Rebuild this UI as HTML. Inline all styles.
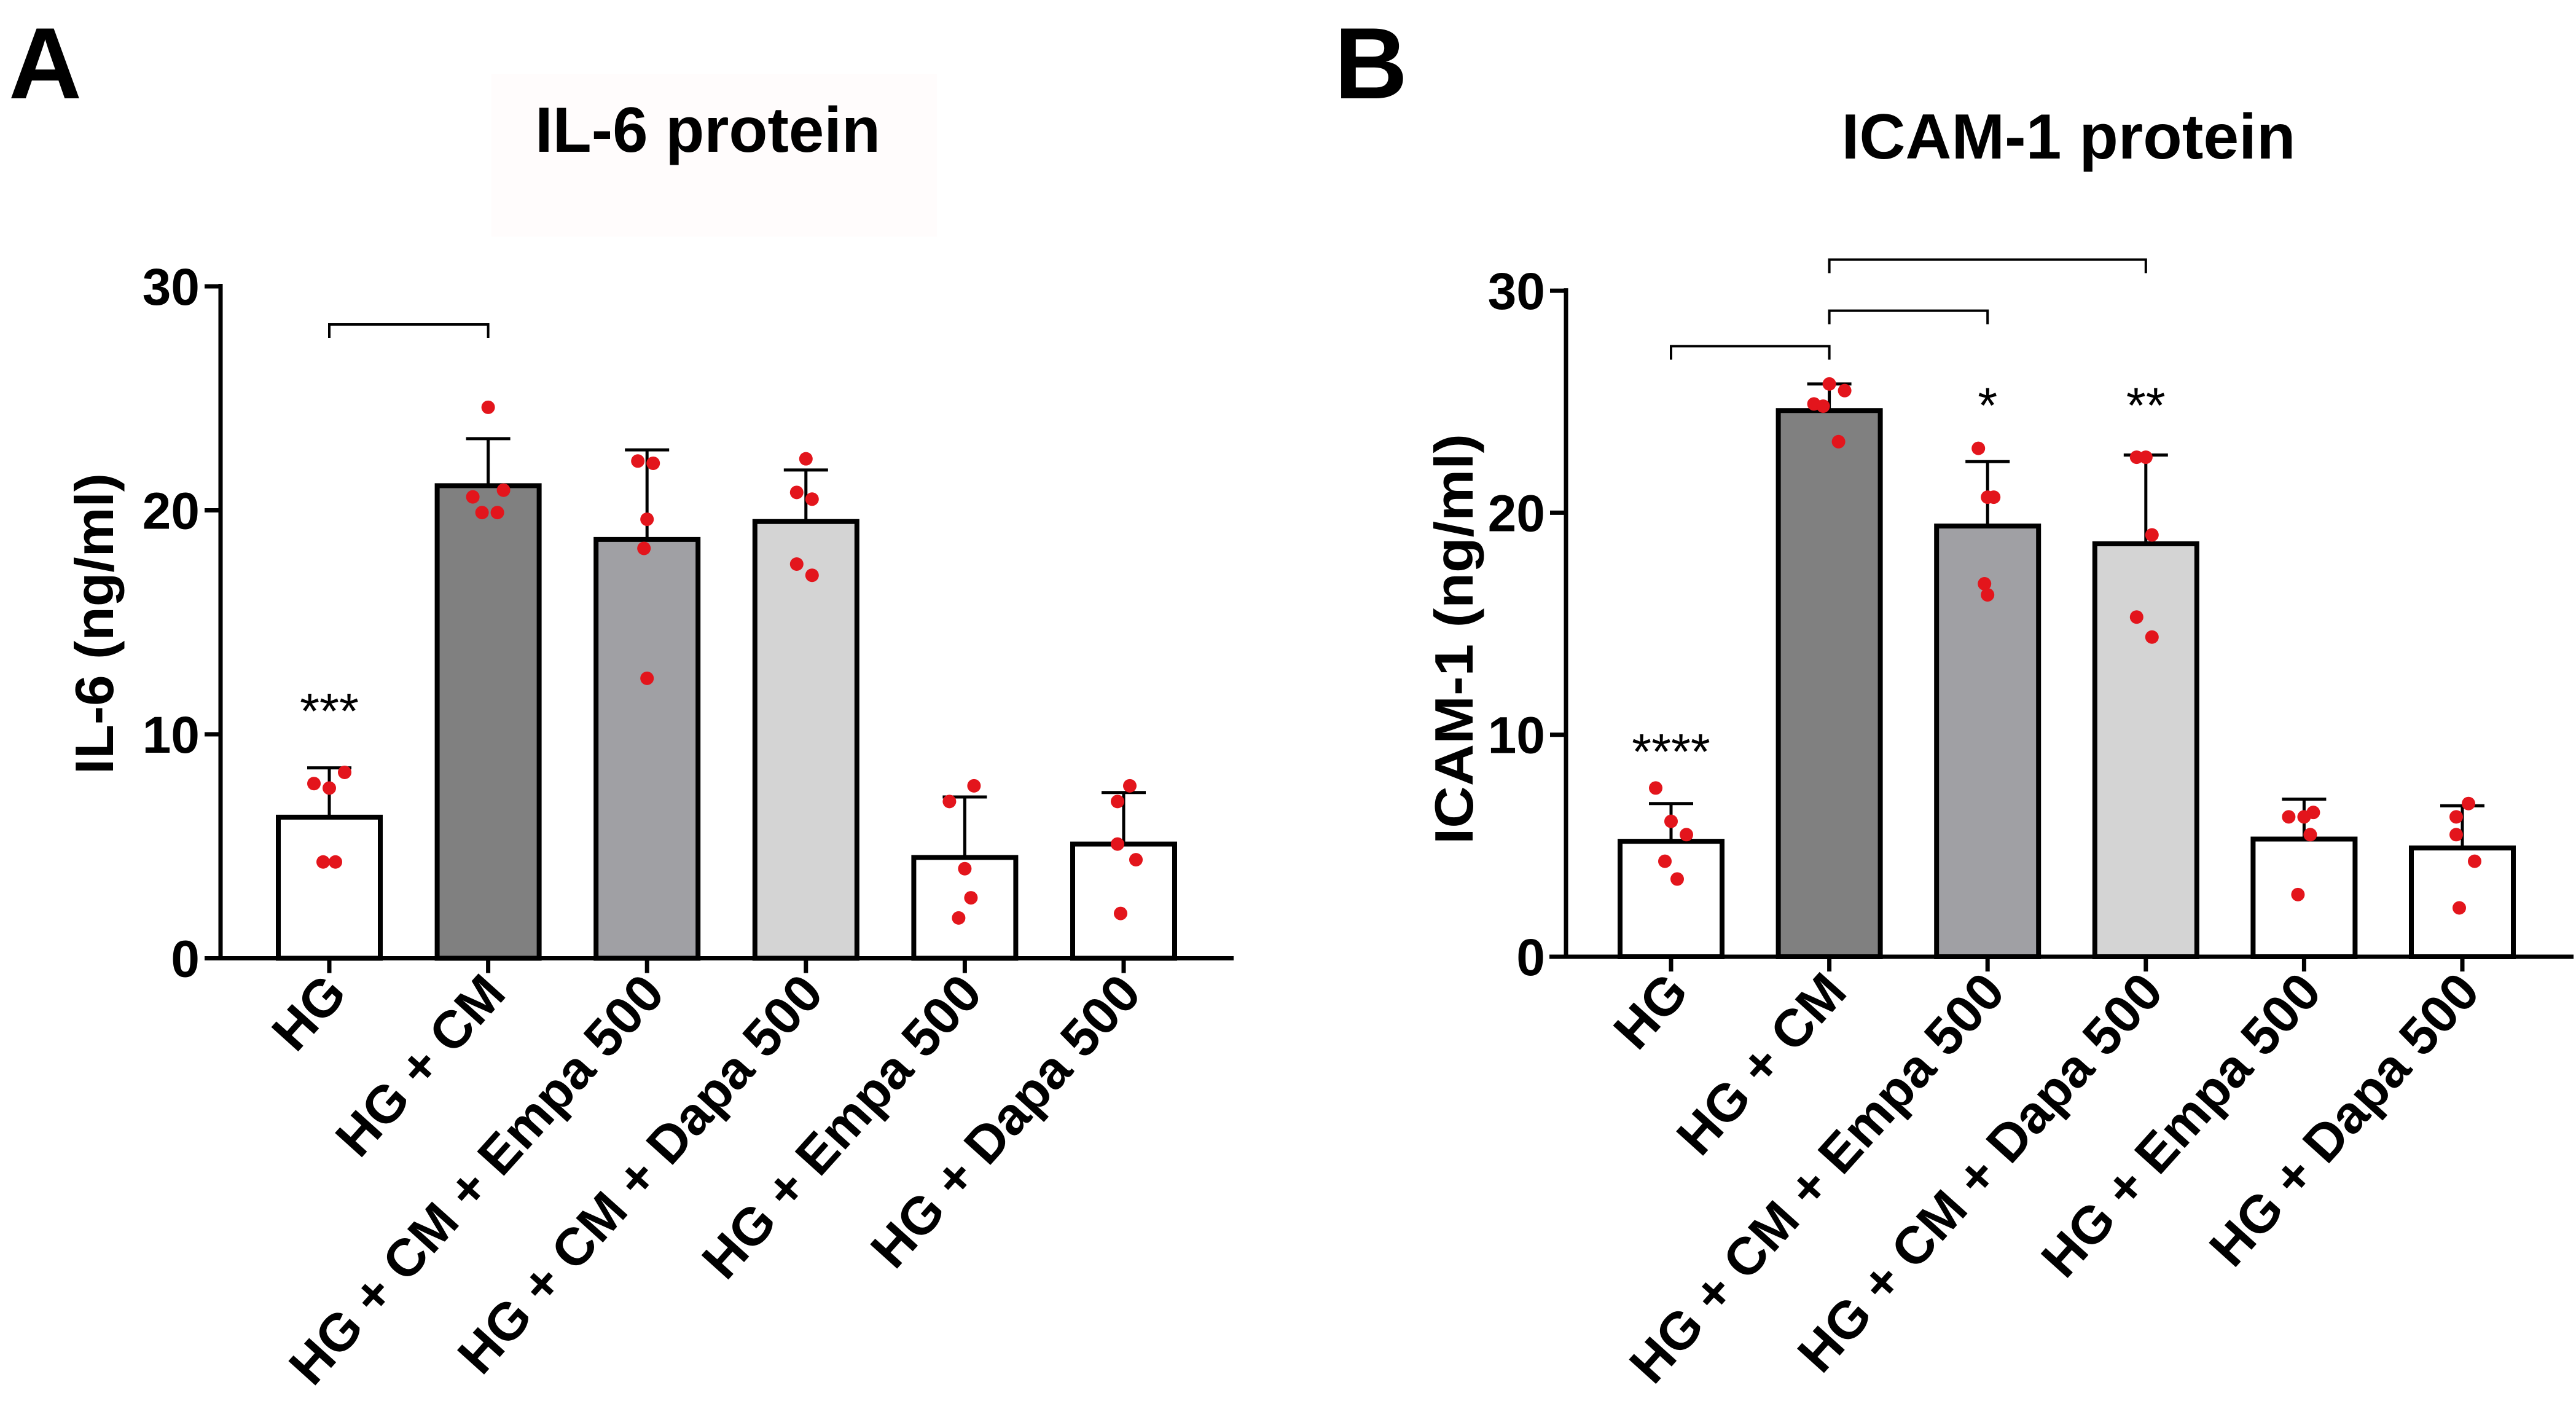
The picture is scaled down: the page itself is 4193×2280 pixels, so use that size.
<!DOCTYPE html>
<html><head><meta charset="utf-8"><style>
html,body{margin:0;padding:0;background:#fff;}
svg{display:block;font-family:"Liberation Sans",Arial,sans-serif;font-weight:bold;}
</style></head><body>
<svg id="fig" width="4193" height="2280" viewBox="0 0 4193 2280" xmlns="http://www.w3.org/2000/svg">
<rect x="800" y="120" width="725" height="265" fill="#fffcfc"/>
<text x="14" y="160" font-size="165">A</text>
<text x="2172" y="160" font-size="165">B</text>
</svg>
<script>
const categories = ["HG","HG + CM","HG + CM + Empa 500","HG + CM + Dapa 500","HG + Empa 500","HG + Dapa 500"];
const fills = ["#ffffff","#808080","#a0a0a4","#d4d4d4","#ffffff","#ffffff"];
const yTicks = [0,10,20,30];
const il6Means = [6.3,21.1,18.7,19.5,4.5,5.1];
const il6SdTop = [8.5,23.2,22.7,21.8,7.2,7.4];
const il6Points = [[7.8,7.6,8.3,4.3,4.3],[24.6,20.9,20.6,19.9,19.9],[22.2,22.1,19.6,18.3,12.5],[22.3,20.8,20.5,17.6,17.1],[7.7,7.0,4.0,2.7,1.8],[7.7,7.0,5.1,4.4,2.0]];
const icamMeans = [5.2,24.6,19.4,18.6,5.3,4.9];
const icamSdTop = [6.9,25.8,22.3,22.6,7.1,6.8];
const icamPoints = [[7.6,6.1,5.5,4.3,3.5],[25.8,25.5,24.9,24.8,23.2],[22.9,20.7,20.7,16.8,16.3],[22.5,22.5,19.0,15.3,14.4],[6.5,6.3,6.3,5.5,2.8],[6.9,6.3,5.5,4.3,2.2]];
const il6Brackets = [[0,1,28.3]];
const icamBrackets = [[0,1,27.5],[1,2,29.1],[1,3,31.4]];
const il6Stars = [[0,"***",11.2]];
const icamStars = [[0,"****",9.4],[2,"*",25.0],[3,"**",25.0]];
const jitter = [[-25,0,25,-10,10],[0,25,-25,-10,15],[-15,10,0,-5,0],[0,-15,10,-15,10],[15,-25,0,10,-10],[10,-10,-10,20,-5]];

const NS="http://www.w3.org/2000/svg";
const svg=document.getElementById('fig');
function mk(tag,attrs,parent){const e=document.createElementNS(NS,tag);for(const k in attrs)e.setAttribute(k,attrs[k]);(parent||svg).appendChild(e);return e;}

function panel(p){
  const g=mk('g',{});
  
  
  const y=v=>p.y0-v*p.k;
  const x=i=>p.c0+i*p.step;
  const bw=166;
  const t=mk('text',{x:p.titleX,y:p.titleY,'font-size':104,'text-anchor':'middle',textLength:p.titleW,lengthAdjust:'spacingAndGlyphs'},g);
  t.textContent=p.title;
  
  
  const yt=mk('text',{x:0,y:0,'font-size':88,'text-anchor':'middle',textLength:p.ytW,lengthAdjust:'spacingAndGlyphs',transform:`translate(${p.ytX},${p.ytY}) rotate(-90)`},g);
  yt.textContent=p.ytitle;
  
  
  p.means.forEach((m,i)=>{
    const r=mk('rect',{x:x(i)-bw/2,y:y(m),width:bw,height:y(0)-y(m),fill:fills[i],stroke:'#000','stroke-width':8},g);
    
    
    const e=mk('path',{d:`M${x(i)} ${y(m)}V${y(p.sd[i])}M${x(i)-36} ${y(p.sd[i])}H${x(i)+36}`,stroke:'#000','stroke-width':5,fill:'none'},g);
    
    
  });
  p.points.forEach((arr,i)=>arr.forEach((v,j)=>{
    const c=mk('circle',{cx:x(i)+jitter[i][j],cy:y(v),r:11,fill:'#e3151c'},g);
    
    
  }));
  const ax=mk('path',{d:`M${p.ax} ${y(30)-4}V${y(0)}M${p.xs} ${y(0)}H${p.xe}`,stroke:'#000','stroke-width':7,fill:'none'},g);
  
  
  yTicks.forEach(v=>{
    mk('line',{x1:p.ax-26,x2:p.ax,y1:y(v),y2:y(v),stroke:'#000','stroke-width':7},g);
    const tl=mk('text',{x:p.ax-34,y:y(v)+30,'font-size':84,'text-anchor':'end'},g);
    tl.textContent=v;
    
    
  });
  categories.forEach((c,i)=>{
    mk('line',{x1:x(i),x2:x(i),y1:y(0),y2:y(0)+24,stroke:'#000','stroke-width':7},g);
    const tl=mk('text',{x:0,y:0,'font-size':86,'text-anchor':'end',transform:`translate(${x(i)+32},${y(0)+60}) rotate(-48)`},g);
    tl.textContent=c;
    
    
  });
  p.brackets.forEach(b=>{
    const yy=y(b[2]);
    const br=mk('path',{d:`M${x(b[0])} ${yy+22}V${yy}H${x(b[1])}V${yy+22}`,stroke:'#000','stroke-width':4,fill:'none'},g);
    
    
  });
  p.stars.forEach(s=>{
    const st=mk('text',{x:x(s[0]),y:y(s[2])+34,'font-size':82,'font-weight':'normal','text-anchor':'middle'},g);
    st.textContent=s[1];
    
    
  });
}
panel({name:'il6-chart',title:'IL-6 protein',titleX:1152,titleY:247,titleW:562,ytitle:'IL-6 (ng/ml)',ytX:184,ytY:1015,ytW:490,
  y0:1559.5,k:36.45,c0:536,step:258.6,ax:359,xs:335,xe:2008,means:il6Means,sd:il6SdTop,points:il6Points,brackets:il6Brackets,stars:il6Stars});
panel({name:'icam1-chart',title:'ICAM-1 protein',titleX:3367,titleY:258,titleW:739,ytitle:'ICAM-1 (ng/ml)',ytX:2397,ytY:1040,ytW:668,
  y0:1557,k:36.13,c0:2720,step:257.6,ax:2549,xs:2522,xe:4189,means:icamMeans,sd:icamSdTop,points:icamPoints,brackets:icamBrackets,stars:icamStars});
</script>
</body></html>
